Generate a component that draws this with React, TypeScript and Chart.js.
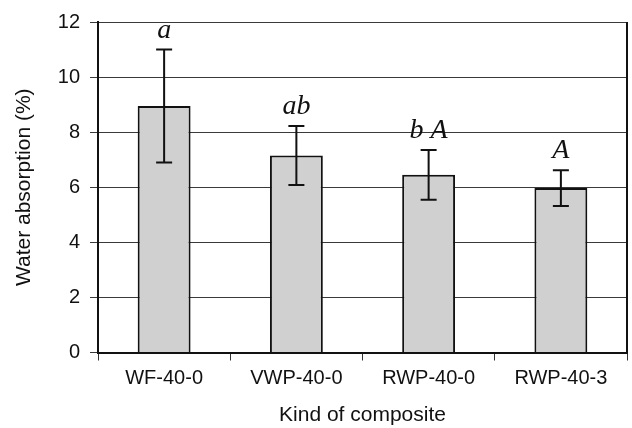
import React, { useEffect, useRef } from "react";
import { Chart, registerables } from "chart.js";

Chart.register(...registerables);

const categories = ["WF-40-0", "VWP-40-0", "RWP-40-0", "RWP-40-3"];
const meanValues = [8.95, 7.15, 6.45, 5.97];
const sdValues = [2.05, 1.07, 0.9, 0.65];
const groupLetters = ["a", "ab", "b A", "A"];
const yTickMin = 0;
const yTickMax = 12;
const yTickStep = 2;

const errorBarPlugin = {
  id: "errorBars",
  afterDatasetsDraw(chart: any) {
    const ctx = chart.ctx;
    const meta = chart.getDatasetMeta(0);
    const yScale = chart.scales.y;
    ctx.save();
    meta.data.forEach((bar: any, i: number) => {
      const x = bar.x;
      const hi = yScale.getPixelForValue(meanValues[i] + sdValues[i]);
      const lo = yScale.getPixelForValue(meanValues[i] - sdValues[i]);
      ctx.strokeStyle = "#111";
      ctx.lineWidth = 2;
      ctx.beginPath();
      ctx.moveTo(x, hi);
      ctx.lineTo(x, lo);
      ctx.moveTo(x - 8, hi);
      ctx.lineTo(x + 8, hi);
      ctx.moveTo(x - 8, lo);
      ctx.lineTo(x + 8, lo);
      ctx.stroke();
      ctx.fillStyle = "#111";
      ctx.font = `italic 28px "Liberation Serif", "Times New Roman", serif`;
      ctx.textAlign = "center";
      ctx.textBaseline = "alphabetic";
      ctx.fillText(groupLetters[i], x, hi - 12);
    });
    const a = chart.chartArea;
    ctx.strokeStyle = "#111";
    ctx.lineWidth = 2;
    ctx.beginPath();
    ctx.moveTo(a.right, a.top);
    ctx.lineTo(a.right, a.bottom);
    ctx.stroke();
    ctx.restore();
  },
};

export default function App() {
  const ref = useRef<HTMLCanvasElement | null>(null);
  useEffect(() => {
    if (!ref.current) return;
    const chart = new Chart(ref.current, {
      type: "bar",
      data: {
        labels: categories,
        datasets: [
          {
            data: meanValues,
            backgroundColor: "#d0d0d0",
            borderColor: "#111",
            borderWidth: 2,
            barPercentage: 0.4,
            categoryPercentage: 1,
          },
        ],
      },
      options: {
        animation: false,
        responsive: true,
        maintainAspectRatio: false,
        layout: { padding: { top: 17, right: 5, left: 0, bottom: 0 } },
        plugins: { legend: { display: false }, tooltip: { enabled: false } },
        scales: {
          x: {
            afterFit: (s: any) => {
              s.height = 75.5;
            },
            grid: {
              offset: true,
              drawOnChartArea: false,
              drawTicks: true,
              tickLength: 8,
              color: "#333",
              lineWidth: 1,
            },
            border: { color: "#111", width: 2 },
            ticks: {
              color: "#111",
              padding: 6,
              font: { family: '"Liberation Sans", Arial, sans-serif', size: 20 },
            },
            title: {
              display: true,
              text: "Kind of composite",
              color: "#111",
              padding: { top: 0, bottom: 0 },
              font: { family: '"Liberation Sans", Arial, sans-serif', size: 21 },
            },
          },
          y: {
            min: yTickMin,
            max: yTickMax,
            afterFit: (s: any) => {
              s.width = 98;
            },
            grid: {
              color: "#3a3a3a",
              lineWidth: 1,
              tickLength: 8,
            },
            border: { color: "#111", width: 2 },
            ticks: {
              stepSize: yTickStep,
              color: "#111",
              padding: 10,
              font: { family: '"Liberation Sans", Arial, sans-serif', size: 20 },
            },
            title: {
              display: true,
              text: "Water absorption (%)",
              color: "#111",
              padding: { top: 12, bottom: 0 },
              font: { family: '"Liberation Sans", Arial, sans-serif', size: 21 },
            },
          },
        },
      },
      plugins: [errorBarPlugin],
    });
    return () => chart.destroy();
  }, []);
  return (
    <div style={{ position: "absolute", left: 0, top: 0, width: 632, height: 428, background: "#fff" }}>
      <canvas ref={ref} />
    </div>
  );
}
